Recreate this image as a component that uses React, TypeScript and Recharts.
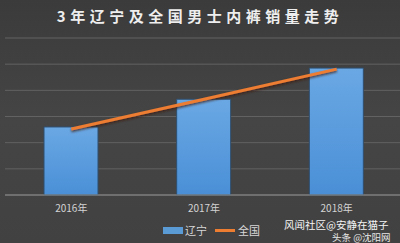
import React from "react";
import {
  ComposedChart,
  Bar,
  Line,
  XAxis,
  YAxis,
  CartesianGrid,
} from "recharts";

const years = ["2016年", "2017年", "2018年"];
const liaoning = [2.6, 3.66, 4.85];
const national = [2.52, 3.66, 4.81];
const yTicks = [0, 1, 2, 3, 4, 5, 6];

const data = years.map((year, i) => ({
  year,
  liaoning: liaoning[i],
  national: national[i],
}));

const FONT = "'Noto Sans CJK SC', 'Noto Sans', sans-serif";

export default function App() {
  return (
    <div
      style={{
        position: "absolute",
        top: 0,
        left: 0,
        width: 400,
        height: 243,
        overflow: "hidden",
        background: "linear-gradient(180deg, #3b3b3b 0%, #454545 50%, #414141 100%)",
        fontFamily: FONT,
      }}
    >
      <div
        style={{
          position: "absolute",
          top: 5,
          width: 400,
          textAlign: "center",
          color: "#eeeeee",
          fontSize: 15,
          fontWeight: 700,
          letterSpacing: 4.5,
        }}
      >
        3年辽宁及全国男士内裤销量走势
      </div>
      <ComposedChart
        width={400}
        height={243}
        data={data}
        margin={{ top: 38, right: -3, left: 5, bottom: 28 }}
      >
        <defs>
          <linearGradient id="barFill" x1="0" y1="0" x2="0" y2="1">
            <stop offset="0%" stopColor="#6aa8e4" />
            <stop offset="100%" stopColor="#4a8fd6" />
          </linearGradient>
          <filter id="lineShadow" x="-10%" y="-50%" width="120%" height="200%">
            <feDropShadow dx="0" dy="1.5" stdDeviation="0.8" floodColor="#3a1a08" floodOpacity="0.8" />
          </filter>
        </defs>
        <CartesianGrid vertical={false} stroke="#626262" strokeWidth={1} />
        <XAxis
          dataKey="year"
          height={20}
          axisLine={{ stroke: "#8c8c8c" }}
          tickLine={false}
          tick={{ fontSize: 10, fill: "#d4d4d4", fontFamily: FONT }}
          tickMargin={4}
        />
        <YAxis
          width={0}
          type="number"
          domain={[0, 6]}
          ticks={yTicks}
          interval={0}
          tick={{ fill: "none", fontSize: 1 }}
          axisLine={false}
          tickLine={false}
        />
        <Bar
          dataKey="liaoning"
          name="辽宁"
          fill="url(#barFill)"
          stroke="#2f4f6f"
          strokeWidth={1}
          barSize={54}
          isAnimationActive={false}
        />
        <Line
          dataKey="national"
          name="全国"
          type="linear"
          stroke="#ed7d31"
          strokeWidth={3}
          dot={false}
          activeDot={false}
          style={{ filter: "url(#lineShadow)" }}
          isAnimationActive={false}
        />
      </ComposedChart>
      <div
        style={{
          position: "absolute",
          left: 163,
          top: 222,
          display: "flex",
          alignItems: "center",
          gap: 8,
          fontSize: 11,
          color: "#d8d8d8",
          lineHeight: "16px",
        }}
      >
        <span style={{ display: "flex", alignItems: "center", gap: 2 }}>
          <span style={{ width: 20, height: 7, background: "#5b9bd5" }} />
          辽宁
        </span>
        <span style={{ display: "flex", alignItems: "center", gap: 3 }}>
          <span style={{ width: 20, height: 3, background: "#ed7d31" }} />
          全国
        </span>
      </div>
      <div
        style={{
          position: "absolute",
          left: 284,
          top: 219,
          fontSize: 10.5,
          color: "#f4f4f4",
          whiteSpace: "nowrap",
          lineHeight: "11px",
        }}
      >
        风闻社区@安静在猫子
      </div>
      <div
        style={{
          position: "absolute",
          left: 332,
          top: 232,
          fontSize: 9.5,
          color: "#e8e8e8",
          whiteSpace: "nowrap",
          lineHeight: "10px",
        }}
      >
        头条 @沈阳网
      </div>
    </div>
  );
}
